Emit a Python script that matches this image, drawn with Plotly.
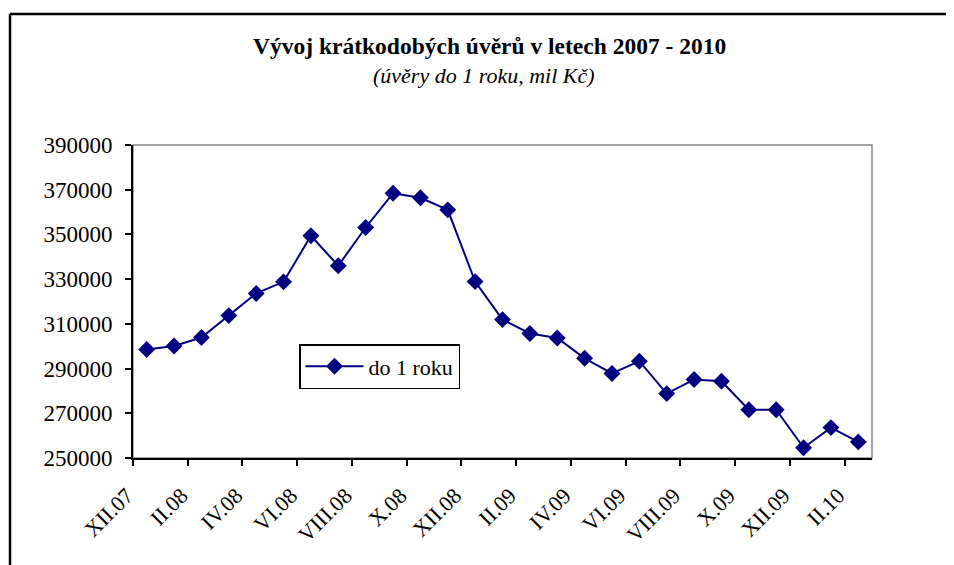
import plotly.graph_objects as go

months = ["XII.07", "I.08", "II.08", "III.08", "IV.08", "V.08", "VI.08", "VII.08",
          "VIII.08", "IX.08", "X.08", "XI.08", "XII.08", "I.09", "II.09", "III.09",
          "IV.09", "V.09", "VI.09", "VII.09", "VIII.09", "IX.09", "X.09", "XI.09",
          "XII.09", "I.10", "II.10"]
values = [298500, 300100, 303900, 313700, 323600, 328800, 349400, 336000,
          353100, 368400, 366400, 361000, 328900, 311900, 305700, 303700,
          294600, 287800, 293300, 278800, 285100, 284300, 271600, 271600,
          254600, 263600, 257200]
series_name = "do 1 roku"
title_text = "<b>Vývoj krátkodobých úvěrů v letech 2007 - 2010</b>"
subtitle_text = "<i>(úvěry do 1 roku, mil Kč)</i>"
y_range = [250000, 390000]
y_step = 20000

# page body has an 8px margin: work in screen pixels, convert to figure pixels
OFF = 8
W, H = 954 - OFF, 565 - OFF
left_px, right_px, top_px, bottom_px = 133, 872, 145, 458
ml, mt = left_px - OFF, top_px - OFF
mr, mb = W - (right_px - OFF), H - (bottom_px - OFF)
pw, ph = W - ml - mr, H - mt - mb

xs = list(range(len(months)))
serif = "Liberation Serif, Times New Roman, serif"

fig = go.Figure()
fig.add_trace(go.Scatter(
    x=xs, y=values, name=series_name, mode="lines+markers",
    line=dict(color="#000080", width=2),
    marker=dict(symbol="diamond", size=13, color="#000080"),
))

def px_to_paper_x(px):
    return (px - OFF - ml) / pw

def px_to_paper_y(py):
    return (H - mb - (py - OFF)) / ph

frame_left, frame_top = 10, 14

fig.update_layout(
    width=W, height=H,
    margin=dict(l=ml, r=mr, t=mt, b=mb),
    paper_bgcolor="white", plot_bgcolor="white",
    font=dict(family=serif, color="black", size=20),
    showlegend=True,
    legend=dict(x=px_to_paper_x(299), y=px_to_paper_y(344), xanchor="left", yanchor="top",
                bordercolor="black", borderwidth=1.5, bgcolor="white", itemwidth=58,
                font=dict(family=serif, size=22, color="black")),
    xaxis=dict(range=[-0.5, len(months) - 0.5], tickmode="array",
               tickvals=xs[::2], ticktext=months[::2], tickangle=-45,
               ticks="", showgrid=False, zeroline=False,
               showline=True, linecolor="black", linewidth=2,
               ticklabelstandoff=14, ticklabelshift=-20,
               tickfont=dict(family=serif, size=22, color="black"),
               minor=dict(tickmode="array", tickvals=[v - 0.5 for v in xs[::2]],
                          ticks="outside", ticklen=6, tickwidth=2, tickcolor="black",
                          showgrid=False)),
    yaxis=dict(range=y_range, dtick=y_step, tick0=y_range[0], ticks="outside",
               ticklen=6, tickwidth=2, tickcolor="black", showgrid=False,
               zeroline=False, showline=True, linecolor="black", linewidth=2,
               ticklabelstandoff=8,
               tickformat="d", tickfont=dict(family=serif, size=23, color="black")),
    shapes=[
        dict(type="rect", xref="paper", yref="paper", x0=0, y0=0, x1=1, y1=1,
             line=dict(color="#888888", width=1.5), layer="below"),
        dict(type="line", xref="paper", yref="paper",
             x0=px_to_paper_x(frame_left), y0=px_to_paper_y(frame_top),
             x1=px_to_paper_x(960), y1=px_to_paper_y(frame_top),
             line=dict(color="black", width=2.5), layer="below"),
        dict(type="line", xref="paper", yref="paper",
             x0=px_to_paper_x(frame_left), y0=px_to_paper_y(frame_top),
             x1=px_to_paper_x(frame_left), y1=px_to_paper_y(570),
             line=dict(color="black", width=2.5), layer="below"),
    ],
    annotations=[
        dict(text=title_text, xref="paper", yref="paper",
             x=px_to_paper_x(489), y=px_to_paper_y(46), xanchor="center", yanchor="middle",
             showarrow=False, font=dict(family=serif, size=23.5, color="black")),
        dict(text=subtitle_text, xref="paper", yref="paper",
             x=px_to_paper_x(484), y=px_to_paper_y(75), xanchor="center", yanchor="middle",
             showarrow=False, font=dict(family=serif, size=22, color="black")),
    ],
)

fig.write_html("out.html")
